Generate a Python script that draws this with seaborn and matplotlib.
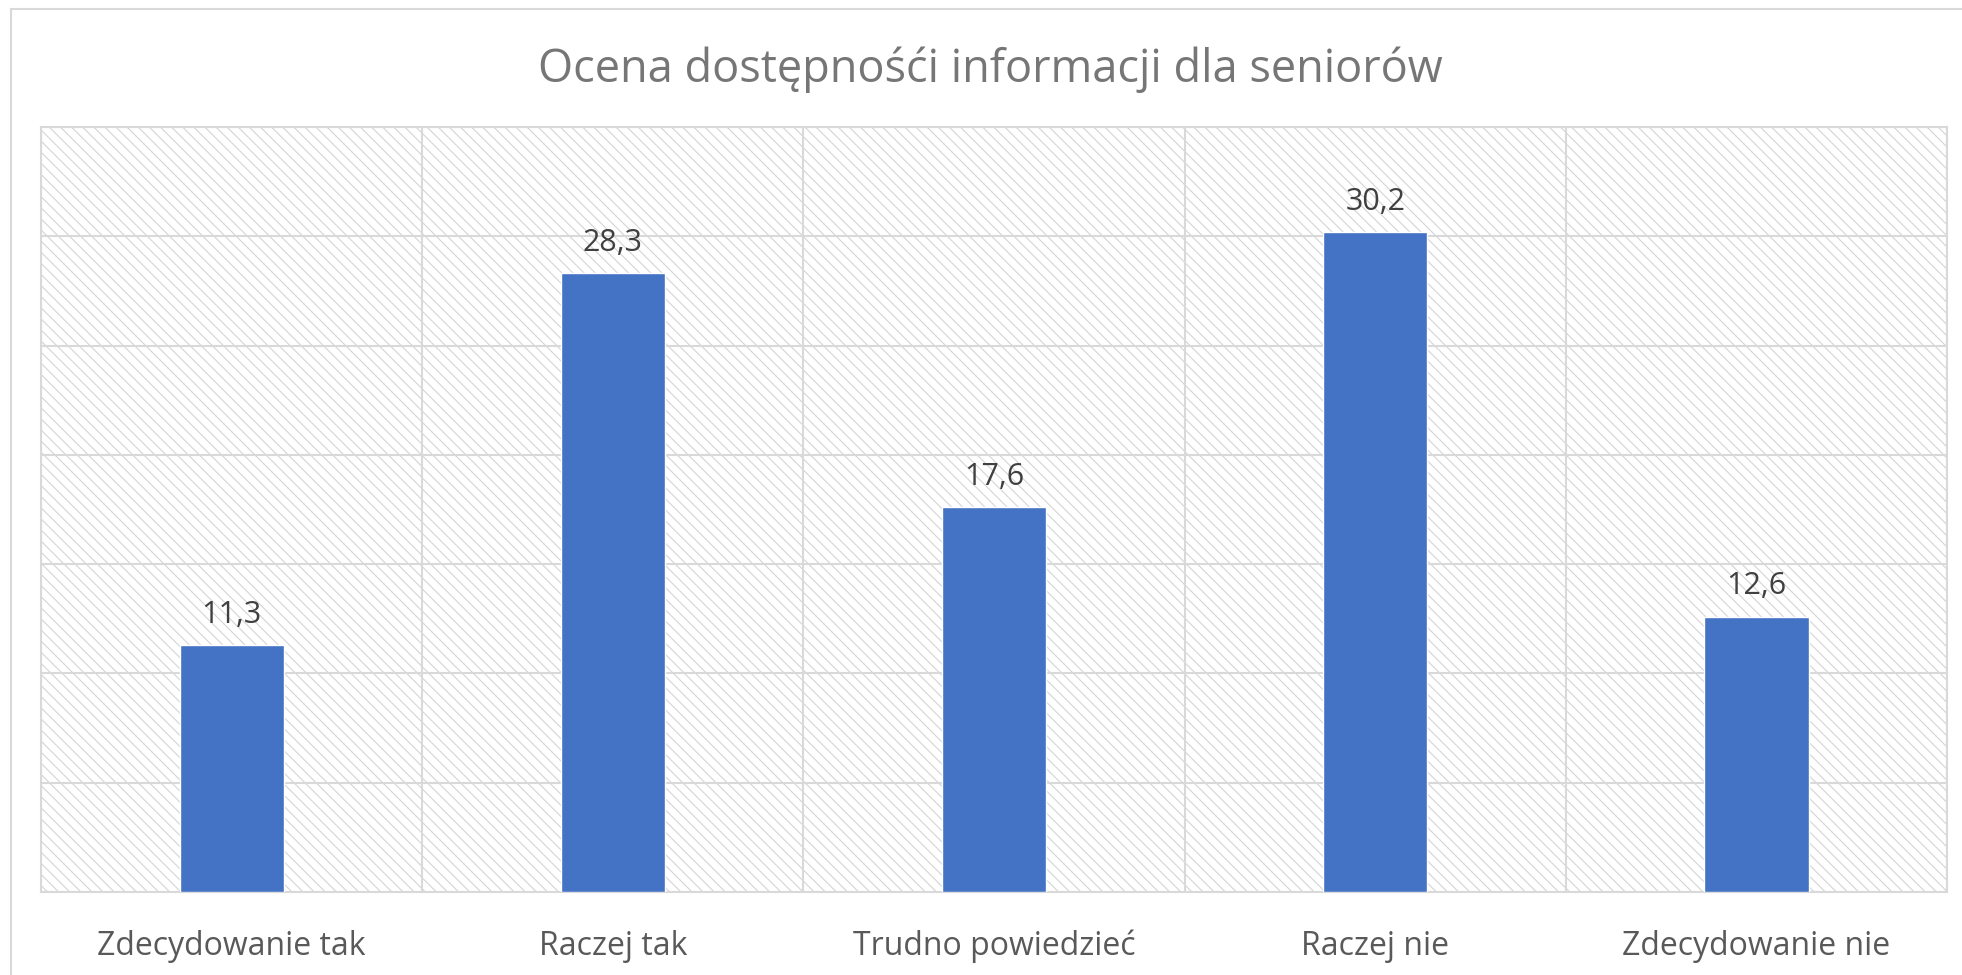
import matplotlib.pyplot as plt
import matplotlib.lines as mlines
from matplotlib.patches import Rectangle
import seaborn as sns
import pandas as pd

categories = ["Zdecydowanie tak", "Raczej tak", "Trudno powiedzieć", "Raczej nie", "Zdecydowanie nie"]
values = [11.3, 28.3, 17.6, 30.2, 12.6]
title = "Ocena dostępnośći informacji dla seniorów"

sns.set_theme(style="white")
plt.rcParams['font.family'] = ['Open Sans', 'DejaVu Sans']
plt.rcParams['hatch.linewidth'] = 0.8

df = pd.DataFrame({"kategoria": categories, "wartosc": values})

fig = plt.figure(figsize=(19.62, 9.75), dpi=100)
ax = fig.add_axes([0.0209, 0.0851, 0.9715, 0.7846])

sns.barplot(data=df, x="kategoria", y="wartosc", color="#4472C4",
            width=0.273, saturation=1, ax=ax, zorder=3)

# hatched plot background
ax.add_patch(Rectangle((0, 0), 1, 1, transform=ax.transAxes, facecolor='white',
                       edgecolor='#d4d4d4', hatch='\\\\\\', linewidth=0, zorder=0))

ax.set_ylim(0, 35)
ax.set_xlim(-0.5, 4.5)
ax.set_yticks(range(0, 36, 5))
ax.set_xticks([x + 0.5 for x in range(-1, 5)], minor=True)
ax.grid(True, which='major', axis='y', color='#d9d9d9', linewidth=1.5, zorder=1)
ax.grid(True, which='minor', axis='x', color='#d9d9d9', linewidth=1.5, zorder=1)
ax.set_axisbelow(True)
ax.tick_params(axis='y', left=False, labelleft=False)
ax.tick_params(axis='x', which='both', bottom=False, labelsize=23,
               labelcolor='#595959', pad=21)
for s in ax.spines.values():
    s.set_color('#d9d9d9')
    s.set_linewidth(1.5)
ax.set_xlabel("")
ax.set_ylabel("")

# data labels
for i, v in enumerate(values):
    ax.annotate(f"{v:.1f}".replace(".", ","), xy=(i, v), xytext=(0, 11),
                textcoords='offset points', ha='center', va='bottom',
                fontsize=22, color='#404040')

fig.text(0.505, 0.928, title, ha='center', va='center', fontsize=32.5, color='#767676')

# chart frame (left and top edges visible)
fig.add_artist(mlines.Line2D([11 / 1962, 11 / 1962], [0, 1 - 9 / 975],
                             color='#d9d9d9', linewidth=1.5, transform=fig.transFigure))
fig.add_artist(mlines.Line2D([11 / 1962, 1], [1 - 9 / 975, 1 - 9 / 975],
                             color='#d9d9d9', linewidth=1.5, transform=fig.transFigure))

plt.savefig("out.png", dpi=100)
plt.close()
